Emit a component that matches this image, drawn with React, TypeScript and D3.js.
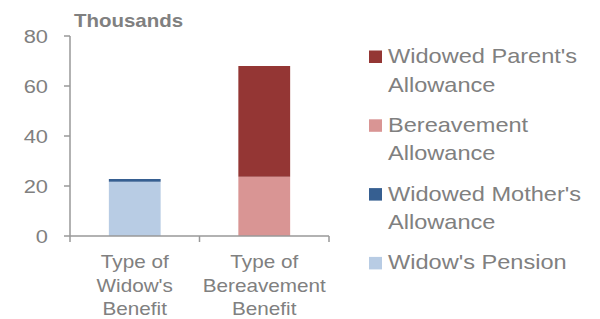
import * as d3 from "d3";

// chart values (thousands)
const categories = ["widow", "bereavement"];
const categoryLabels = [
  ["Type of", "Widow's", "Benefit"],
  ["Type of", "Bereavement", "Benefit"],
];
const widowsPension = [21.7, 0];
const widowedMothers = [1.1, 0];
const bereavementAllowance = [0, 23.7];
const widowedParents = [0, 44.3];
const yTicks = [0, 20, 40, 60, 80];

const seriesKeys = ["pension", "mother", "bereavement", "parent"];
const seriesNames: Record<string, string[]> = {
  parent: ["Widowed Parent's", "Allowance"],
  bereavement: ["Bereavement", "Allowance"],
  mother: ["Widowed Mother's", "Allowance"],
  pension: ["Widow's Pension"],
};
const colors: Record<string, string> = {
  parent: "#943634",
  bereavement: "#d99594",
  mother: "#365f91",
  pension: "#b8cce4",
};
const legendOrder = ["parent", "bereavement", "mother", "pension"];

const TEXT = "#808080";
const AXIS = "#999999";
const FONT = "Liberation Sans, Arial, sans-serif";
const SX = 1.15; // text in the source is a bit wide

const App = () => {
  const margin = { left: 70, right: 329, top: 36, bottom: 236 };

  const rows = categories.map((c, i) => ({
    cat: c,
    pension: widowsPension[i],
    mother: widowedMothers[i],
    bereavement: bereavementAllowance[i],
    parent: widowedParents[i],
  }));

  const stack = d3.stack<any>().keys(seriesKeys);
  const layers = stack(rows);

  const x = d3
    .scaleBand()
    .domain(categories)
    .range([margin.left, margin.right])
    .paddingInner(0.6)
    .paddingOuter(0.3);
  const y = d3.scaleLinear().domain([0, 80]).range([margin.bottom, margin.top]);

  const step = x.step();
  const xTickPos = [margin.left, margin.left + step, margin.left + 2 * step];

  return (
    <svg
      width={600}
      height={319}
      style={{ position: "absolute", left: 0, top: 0, background: "#fff" }}
      fontFamily={FONT}
    >
      {/* bars */}
      {layers.map((layer) => (
        <g key={layer.key} fill={colors[layer.key]}>
          {layer.map((d, i) =>
            d[1] - d[0] > 0 ? (
              <rect
                key={i}
                x={x(categories[i])}
                width={x.bandwidth()}
                y={y(d[1])}
                height={y(d[0]) - y(d[1])}
              />
            ) : null
          )}
        </g>
      ))}

      {/* y axis */}
      <line x1={margin.left} x2={margin.left} y1={y(80)} y2={y(0)} stroke={AXIS} strokeWidth={1.5} />
      {yTicks.map((t) => (
        <g key={t}>
          <line x1={margin.left - 6} x2={margin.left} y1={y(t)} y2={y(t)} stroke={AXIS} strokeWidth={1.5} />
          <text
            transform={`translate(${margin.left - 22},${y(t) + 7}) scale(${SX},1)`}
            textAnchor="end"
            fontSize={19}
            fill={TEXT}
          >
            {t}
          </text>
        </g>
      ))}
      <text
        transform={`translate(74,27) scale(${SX},1)`}
        fontSize={17.8}
        fontWeight="bold"
        fill={TEXT}
      >
        Thousands
      </text>

      {/* x axis */}
      <line x1={margin.left} x2={margin.right} y1={y(0)} y2={y(0)} stroke={AXIS} strokeWidth={1.5} />
      {xTickPos.map((p, i) => (
        <line key={i} x1={p} x2={p} y1={y(0)} y2={y(0) + 6} stroke={AXIS} strokeWidth={1.5} />
      ))}
      {categories.map((c, i) => (
        <g key={c}>
          {categoryLabels[i].map((line, j) => (
            <text
              key={j}
              transform={`translate(${(x(c) as number) + x.bandwidth() / 2},${268 + j * 23.5}) scale(${SX},1)`}
              textAnchor="middle"
              fontSize={18}
              fill={TEXT}
            >
              {line}
            </text>
          ))}
        </g>
      ))}

      {/* legend */}
      {legendOrder.map((k, i) => {
        const top = 63 + i * 68.8;
        return (
          <g key={k}>
            <rect x={369} y={top - 12.5} width={13} height={12.5} fill={colors[k]} />
            {seriesNames[k].map((line, j) => (
              <text
                key={j}
                transform={`translate(388,${top + j * 28.5}) scale(${SX},1)`}
                fontSize={20.5}
                fill={TEXT}
              >
                {line}
              </text>
            ))}
          </g>
        );
      })}
    </svg>
  );
};

export default App;
